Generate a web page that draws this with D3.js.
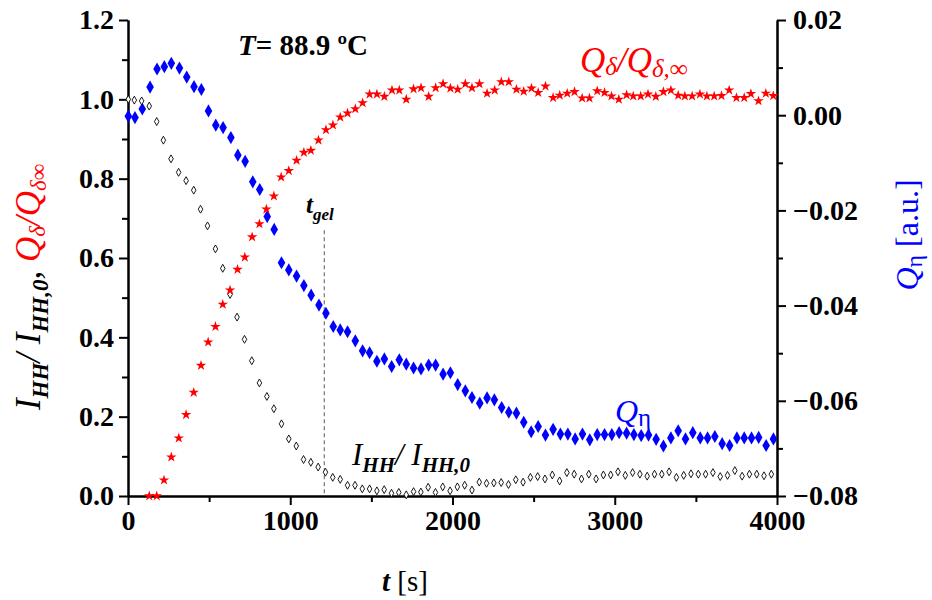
<!DOCTYPE html>
<html>
<head>
<meta charset="utf-8">
<script src="https://cdn.jsdelivr.net/npm/d3@7"></script>
<style>
  body { margin: 0; background: #fff; }
  svg { font-family: "Liberation Serif", "Times New Roman", serif; }
  .axis path, .axis line { stroke: #000; stroke-width: 2; }
</style>
</head>
<body>
<div id="chart"></div>
<script>
// t [s] and I_HH / I_HH,0 (open black markers)
const tIhh = [2,39,84,131,177,218,265,312,358,405,447,490,539,584,629,672,718,763,810,856,
  899,946,991,1037,1082,1127,1172,1217,1262,1308,1353,1399,1444,1489,1534,1579,1624,1669,1715,1760,
  1805,1850,1895,1940,1985,2030,2075,2120,2165,2210,2255,2300,2345,2390,2435,2480,2525,2570,2615,2660,
  2705,2750,2795,2840,2885,2930,2975,3020,3065,3110,3155,3200,3245,3290,3335,3380,3425,3470,3515,3560,
  3605,3650,3695,3740,3785,3830,3875,3920,3965];
const ihh = [1.000,0.998,0.996,0.983,0.944,0.897,0.850,0.816,0.795,0.771,0.723,0.681,0.623,0.574,0.508,0.451,0.395,0.341,0.285,0.251,
  0.220,0.182,0.144,0.126,0.092,0.085,0.073,0.060,0.047,0.042,0.027,0.027,0.018,0.018,0.013,0.016,0.007,0.009,0.003,0.011,
  0.010,0.022,0.009,0.023,0.013,0.023,0.027,0.015,0.035,0.032,0.033,0.034,0.029,0.041,0.035,0.047,0.049,0.043,0.053,0.038,
  0.059,0.055,0.043,0.055,0.043,0.053,0.053,0.061,0.052,0.059,0.055,0.050,0.055,0.055,0.061,0.047,0.052,0.056,0.055,0.055,
  0.059,0.049,0.052,0.064,0.050,0.055,0.055,0.051,0.055];

// Q_delta / Q_delta,inf (red stars)
const tQd = [131,177,222,267,313,358,405,450,494,539,584,629,675,720,765,810,853,899,944,991,
  1039,1084,1127,1174,1220,1263,1308,1353,1401,1446,1489,1534,1580,1627,1672,1715,1760,1806,1853,1896,
  1942,1987,2032,2079,2120,2166,2213,2260,2301,2347,2394,2439,2487,2528,2573,2620,2661,2707,2752,2799,
  2844,2892,2937,2980,3025,3073,3114,3160,3205,3253,3300,3346,3391,3432,3477,3525,3568,3613,3658,3705,
  3750,3798,3839,3886,3931,3977];
const qd = [0.000,0.000,0.040,0.098,0.146,0.205,0.261,0.329,0.388,0.427,0.483,0.519,0.571,0.602,0.653,0.686,0.723,0.756,0.804,0.820,
  0.846,0.866,0.871,0.897,0.923,0.935,0.955,0.965,0.976,0.991,1.013,1.013,1.007,1.023,1.023,1.000,1.026,1.029,1.007,1.029,
  1.039,1.028,1.025,1.039,1.029,1.039,1.015,1.023,1.044,1.044,1.025,1.020,1.028,1.017,1.033,1.004,1.010,1.015,1.019,1.003,
  1.003,1.021,1.017,1.008,1.000,1.011,1.008,1.008,1.013,1.007,1.019,1.023,1.010,1.008,1.008,1.013,1.008,1.008,1.009,1.023,
  1.004,1.004,1.014,0.996,1.015,1.009];

// Q_eta [a.u.] (blue diamonds, right axis)
const tQeta = [2,43,88,136,179,224,267,317,362,407,452,496,541,586,634,677,722,769,812,858,
  901,946,991,1039,1084,1129,1177,1220,1265,1308,1353,1401,1446,1489,1534,1580,1625,1672,1715,1760,
  1806,1853,1896,1942,1987,2032,2079,2120,2168,2213,2258,2303,2347,2394,2439,2485,2528,2573,2620,2665,
  2711,2756,2801,2846,2892,2937,2982,3027,3073,3118,3163,3208,3255,3300,3346,3391,3436,3481,3527,3572,
  3617,3662,3708,3753,3798,3843,3887,3933,3978];
const qeta = [-0.0002,-0.0005,0.0013,0.0059,0.0097,0.0102,0.0109,0.0099,0.0080,0.0060,0.0054,0.0009,-0.0021,-0.0026,-0.0047,-0.0084,-0.0097,-0.0140,-0.0156,-0.0213,
  -0.0240,-0.0310,-0.0325,-0.0338,-0.0358,-0.0378,-0.0399,-0.0416,-0.0444,-0.0451,-0.0455,-0.0474,-0.0495,-0.0499,-0.0517,-0.0512,-0.0528,-0.0514,-0.0523,-0.0531,
  -0.0533,-0.0525,-0.0525,-0.0544,-0.0541,-0.0566,-0.0579,-0.0593,-0.0605,-0.0594,-0.0598,-0.0614,-0.0624,-0.0626,-0.0645,-0.0665,-0.0654,-0.0672,-0.0660,-0.0670,
  -0.0670,-0.0680,-0.0670,-0.0682,-0.0671,-0.0671,-0.0671,-0.0667,-0.0668,-0.0671,-0.0673,-0.0672,-0.0681,-0.0695,-0.0678,-0.0663,-0.0680,-0.0667,-0.0678,-0.0678,
  -0.0675,-0.0690,-0.0694,-0.0678,-0.0678,-0.0678,-0.0677,-0.0694,-0.0680];

const xTicks = [0, 1000, 2000, 3000, 4000];
const xMinor = [500, 1500, 2500, 3500];
const yLeftTicks = [0, 0.2, 0.4, 0.6, 0.8, 1.0, 1.2];
const yLeftMinor = [0.1, 0.3, 0.5, 0.7, 0.9, 1.1];
const yRightTicks = [-0.08, -0.06, -0.04, -0.02, 0.00, 0.02];
const yRightMinor = [-0.07, -0.05, -0.03, -0.01, 0.01];
const tGel = 1210;

const width = 932, height = 600;
const margin = {top: 20, right: 155, bottom: 104, left: 128};

const x = d3.scaleLinear().domain([0, 4000]).range([margin.left, width - margin.right]);
const yL = d3.scaleLinear().domain([0, 1.2]).range([height - margin.bottom, margin.top]);
const yR = d3.scaleLinear().domain([-0.08, 0.02]).range([height - margin.bottom, margin.top]);

const svg = d3.select('#chart').append('svg')
  .attr('width', width)
  .attr('height', height);

// axes
const bottom = height - margin.bottom;
svg.append('g').attr('class', 'axis')
  .attr('transform', 'translate(0,' + bottom + ')')
  .call(d3.axisBottom(x).tickValues(xTicks).tickFormat(d3.format('d')).tickSize(9).tickSizeOuter(0).tickPadding(5));
svg.append('g').attr('class', 'axis')
  .attr('transform', 'translate(0,' + bottom + ')')
  .call(d3.axisBottom(x).tickValues(xMinor).tickFormat('').tickSize(6).tickSizeOuter(0));

svg.append('g').attr('class', 'axis')
  .attr('transform', 'translate(' + margin.left + ',0)')
  .call(d3.axisLeft(yL).tickValues(yLeftTicks).tickFormat(d3.format('.1f')).tickSize(9).tickSizeOuter(0).tickPadding(5));
svg.append('g').attr('class', 'axis')
  .attr('transform', 'translate(' + margin.left + ',0)')
  .call(d3.axisLeft(yL).tickValues(yLeftMinor).tickFormat('').tickSize(6).tickSizeOuter(0));

const xr = width - margin.right;
svg.append('g').attr('class', 'axis')
  .attr('transform', 'translate(' + xr + ',0)')
  .call(d3.axisRight(yR).tickValues(yRightTicks).tickFormat(d3.format('.2f')).tickSize(9).tickSizeOuter(0).tickPadding(7));
svg.append('g').attr('class', 'axis')
  .attr('transform', 'translate(' + xr + ',0)')
  .call(d3.axisRight(yR).tickValues(yRightMinor).tickFormat('').tickSize(6).tickSizeOuter(0));

svg.selectAll('.axis')
  .attr('font-family', '"Liberation Serif", serif')
  .attr('font-size', 28)
  .attr('font-weight', 'bold');
svg.selectAll('.axis text').attr('fill', '#000');

// gel point marker
svg.append('line')
  .attr('x1', x(tGel)).attr('x2', x(tGel))
  .attr('y1', yL(0.67)).attr('y2', yL(0))
  .attr('stroke', '#777').attr('stroke-width', 1.2)
  .attr('stroke-dasharray', '4,3');

// series
const ihhData = tIhh.map((t, i) => ({t: t, v: ihh[i]}));
const qdData = tQd.map((t, i) => ({t: t, v: qd[i]}));
const qetaData = tQeta.map((t, i) => ({t: t, v: qeta[i]}));

svg.append('g').selectAll('path')
  .data(qetaData).join('path')
  .attr('transform', d => 'translate(' + x(d.t) + ',' + yR(d.v) + ')')
  .attr('d', d3.symbol(d3.symbolDiamond, 50))
  .attr('fill', '#0000ff');

svg.append('g').selectAll('path')
  .data(ihhData).join('path')
  .attr('transform', d => 'translate(' + x(d.t) + ',' + yL(d.v) + ')')
  .attr('d', d3.symbol(d3.symbolDiamond, 18))
  .attr('fill', '#fff')
  .attr('stroke', '#000')
  .attr('stroke-width', 0.9);

svg.append('g').selectAll('path')
  .data(qdData).join('path')
  .attr('transform', d => 'translate(' + x(d.t) + ',' + yL(d.v) + ')')
  .attr('d', d3.symbol(d3.symbolStar, 34))
  .attr('fill', '#ff0000');

// annotations
const tT = svg.append('text').attr('x', 238).attr('y', 55)
  .attr('font-size', 29).attr('font-weight', 'bold');
tT.append('tspan').attr('font-style', 'italic').text('T');
tT.append('tspan').text('= 88.9 ºC');

const qdLab = svg.append('text').attr('x', 580).attr('y', 72)
  .attr('font-size', 35).attr('font-style', 'italic').attr('fill', '#ff0000');
qdLab.append('tspan').text('Q');
qdLab.append('tspan').attr('font-size', 25).attr('dy', 3).text('δ');
qdLab.append('tspan').attr('dy', -3).text('/Q');
qdLab.append('tspan').attr('font-size', 25).attr('dy', 5).text('δ,∞');

const gel = svg.append('text').attr('x', 306).attr('y', 213)
  .attr('font-size', 25).attr('font-weight', 'bold').attr('font-style', 'italic');
gel.append('tspan').text('t');
gel.append('tspan').attr('font-size', 17).attr('dy', 7).text('gel');

const ihhLab = svg.append('text').attr('x', 352).attr('y', 465)
  .attr('font-size', 31).attr('font-style', 'italic');
ihhLab.append('tspan').text('I');
ihhLab.append('tspan').attr('font-size', 21).attr('font-weight', 'bold').attr('dy', 7).text('HH');
ihhLab.append('tspan').attr('dy', -7).text('/ I');
ihhLab.append('tspan').attr('font-size', 21).attr('font-weight', 'bold').attr('dy', 7).text('HH,0');

const qeLab = svg.append('text').attr('x', 615).attr('y', 422)
  .attr('font-size', 32).attr('fill', '#0000ff');
qeLab.append('tspan').attr('font-style', 'italic').text('Q');
qeLab.append('tspan').attr('font-size', 25).attr('dy', 4).text('η');

// axis titles
const xt = svg.append('text').attr('x', 405).attr('y', 591)
  .attr('text-anchor', 'middle').attr('font-size', 29);
xt.append('tspan').attr('font-style', 'italic').attr('font-weight', 'bold').text('t');
xt.append('tspan').text(' [s]');

const ly = svg.append('text')
  .attr('transform', 'translate(40,287) rotate(-90)')
  .attr('text-anchor', 'middle').attr('font-size', 35).attr('font-style', 'italic');
ly.append('tspan').text('I');
ly.append('tspan').attr('font-size', 23).attr('font-weight', 'bold').attr('dy', 8).text('HH');
ly.append('tspan').attr('dy', -8).text('/ I');
ly.append('tspan').attr('font-size', 23).attr('font-weight', 'bold').attr('dy', 8).text('HH,0');
ly.append('tspan').attr('dy', -8).text(', ');
ly.append('tspan').attr('fill', '#ff0000').text('Q');
ly.append('tspan').attr('fill', '#ff0000').attr('font-size', 23).attr('dy', 5).text('δ');
ly.append('tspan').attr('fill', '#ff0000').attr('dy', -5).text('/Q');
ly.append('tspan').attr('fill', '#ff0000').attr('font-size', 23).attr('dy', 6).text('δ∞');

const ry = svg.append('text')
  .attr('transform', 'translate(918,235) rotate(-90)')
  .attr('text-anchor', 'middle').attr('font-size', 32).attr('fill', '#0000ff');
ry.append('tspan').attr('font-style', 'italic').text('Q');
ry.append('tspan').attr('font-size', 24).attr('dy', 4).text('η');
ry.append('tspan').attr('dy', -4).text(' [a.u.]');
</script>
</body>
</html>
